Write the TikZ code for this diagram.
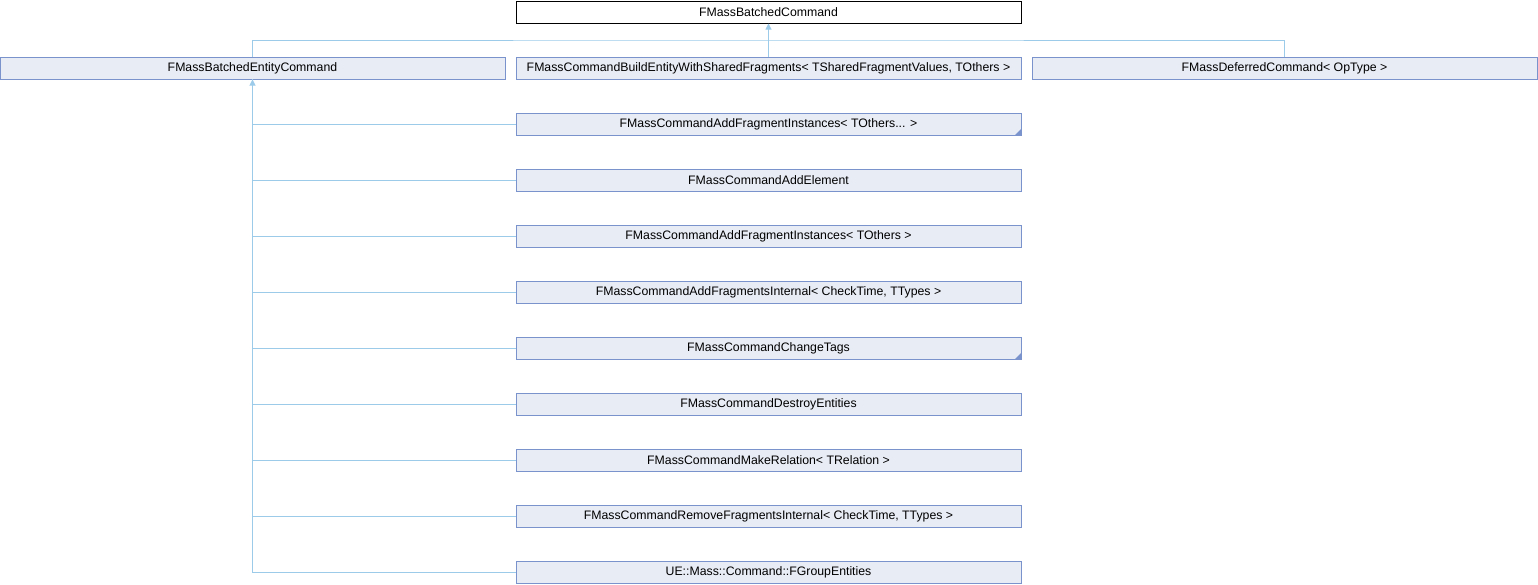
\documentclass[tikz,border=0pt]{standalone}
\usepackage{fontspec}
\setmainfont{Liberation Sans}
\usetikzlibrary{arrows.meta}
\definecolor{boxfill}{HTML}{E8ECF5}
\definecolor{boxline}{HTML}{7A93CC}
\definecolor{edgec}{HTML}{9CCBEA}
\begin{document}
\begin{tikzpicture}[x=1pt,y=-1pt,
  cls/.style={draw=boxline,fill=boxfill,line width=1pt,minimum width=505pt,minimum height=22pt,inner sep=0pt,font=\fontsize{12.3}{14}\selectfont,anchor=center},
  topcls/.style={cls,draw=black,fill=white},
  edge/.style={draw=edgec,line width=1pt},
  inh/.style={edge,-{Triangle[width=6pt,length=6pt,fill=edgec]}}]
\useasboundingbox (0,0) rectangle (1538,584);
\node[topcls] (base) at (768.5,12) {FMassBatchedCommand};
\node[cls] (bec) at (252.5,68) {FMassBatchedEntityCommand};
\node[cls] (build) at (768.5,68) {FMassCommandBuildEntityWithSharedFragments< TSharedFragmentValues, TOthers >};
\node[cls] (def) at (1284.5,68) {FMassDeferredCommand< OpType >};
\coordinate (bus) at (768.5,40);
\draw[edge] (bec.north) |- (bus) -| (def.north);
\draw[edge] (build.north) -- (bus);
\draw[inh] (bus) -- (base.south);
\foreach \i/\n/\t in {
  0/c0/{FMassCommandAddFragmentInstances< TOthers... >},
  1/c1/{FMassCommandAddElement},
  2/c2/{FMassCommandAddFragmentInstances< TOthers >},
  3/c3/{FMassCommandAddFragmentsInternal< CheckTime, TTypes >},
  4/c4/{FMassCommandChangeTags},
  5/c5/{FMassCommandDestroyEntities},
  6/c6/{FMassCommandMakeRelation< TRelation >},
  7/c7/{FMassCommandRemoveFragmentsInternal< CheckTime, TTypes >},
  8/c8/{UE::Mass::Command::FGroupEntities}}{
  \node[cls] (\n) at (768.5,124+56*\i) {\t};
  \draw[edge] (\n.west) -| (252.5,79);
}
\coordinate (trunkend) at (252.5,572);
\draw[inh] (trunkend) -- (bec.south);
\foreach \n in {c0,c4}{
  \fill[boxline] ([xshift=-0.5pt,yshift=0.5pt]\n.south east) -- ++(-6,0) -- ++(6,-6) -- cycle;
}
\end{tikzpicture}
\end{document}
